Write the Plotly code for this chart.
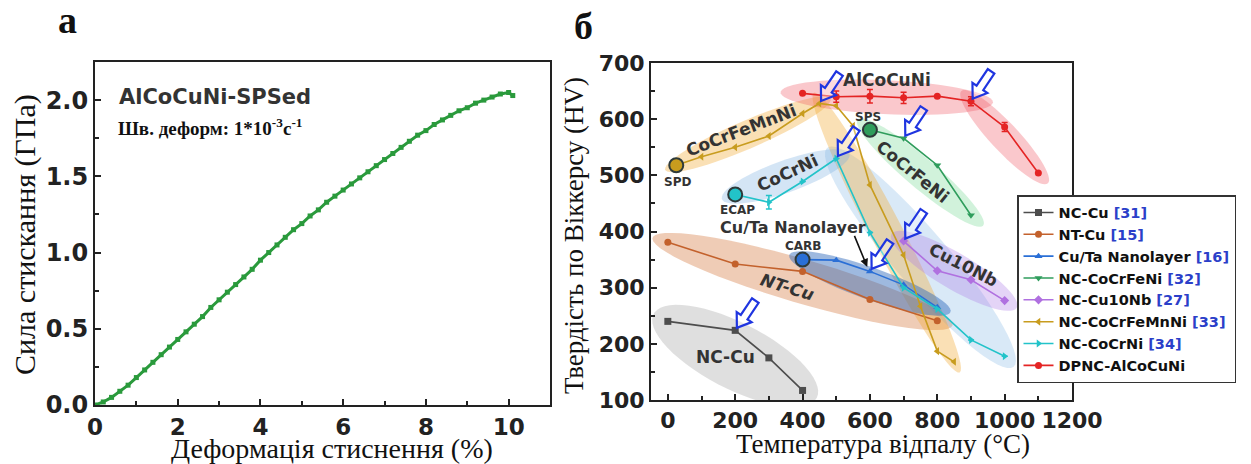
import numpy as np
import plotly.graph_objects as go

W, H = 1251, 464

# ---------- panel (а): compression stress-strain curve ----------
strain = [0.0, 0.2, 0.4, 0.6, 0.8, 1.0, 1.2, 1.4, 1.6, 1.8,
          2.0, 2.2, 2.4, 2.6, 2.8, 3.0, 3.2, 3.4, 3.6, 3.8,
          4.0, 4.2, 4.4, 4.6, 4.8, 5.0, 5.2, 5.4, 5.6, 5.8,
          6.0, 6.2, 6.4, 6.6, 6.8, 7.0, 7.2, 7.4, 7.6, 7.8,
          8.0, 8.2, 8.4, 8.6, 8.8, 9.0, 9.2, 9.4, 9.6, 9.8,
          10.0, 10.1]
stress = [0.00, 0.02, 0.05, 0.09, 0.13, 0.18, 0.23, 0.28, 0.33, 0.38,
          0.43, 0.48, 0.53, 0.58, 0.64, 0.69, 0.74, 0.79, 0.84, 0.89,
          0.95, 1.00, 1.05, 1.10, 1.15, 1.19, 1.24, 1.28, 1.33, 1.37,
          1.41, 1.45, 1.49, 1.53, 1.57, 1.61, 1.65, 1.69, 1.73, 1.77,
          1.80, 1.84, 1.87, 1.90, 1.93, 1.95, 1.98, 2.00, 2.02, 2.04,
          2.05, 2.03]

# ---------- panel (б): Vickers hardness vs annealing temperature ----------
nc_cu_t = [0, 200, 300, 400]
nc_cu_hv = [240, 224, 175, 117]
nt_cu_t = [0, 200, 400, 600, 800]
nt_cu_hv = [381, 342, 329, 279, 241]
cuta_t = [400, 500, 600, 700, 800]
cuta_hv = [350, 349, 329, 305, 265]
cocrfeni_t = [600, 700, 800, 900]
cocrfeni_hv = [581, 566, 518, 429]
cu10nb_t = [700, 800, 900, 1000]
cu10nb_hv = [383, 330, 314, 277]
cocrfemnni_t = [25, 100, 200, 300, 400, 450, 500, 550, 600, 700, 750, 800, 850]
cocrfemnni_hv = [518, 533, 550, 570, 610, 628, 624, 588, 483, 358, 267, 187, 168]
cocrni_t = [200, 300, 400, 500, 600, 700, 800, 900, 1000]
cocrni_hv = [466, 452, 489, 530, 398, 300, 262, 207, 178]
cocrni_err = [0, 12, 0, 0, 0, 0, 0, 0, 0]
alcocuni_t = [400, 500, 600, 700, 800, 900, 1000, 1100]
alcocuni_hv = [646, 640, 641, 638, 641, 632, 586, 504]
alcocuni_err = [0, 10, 12, 10, 0, 8, 8, 0]

legend_names = ["NC-Cu", "NT-Cu", "Cu/Ta Nanolayer", "NC-CoCrFeNi",
                "NC-Cu10Nb", "NC-CoCrFeMnNi", "NC-CoCrNi", "DPNC-AlCoCuNi"]
legend_refs = ["[31]", "[15]", "[16]", "[32]", "[27]", "[33]", "[34]", ""]

series = {
    "NC-Cu": (nc_cu_t, nc_cu_hv, None),
    "NT-Cu": (nt_cu_t, nt_cu_hv, None),
    "Cu/Ta Nanolayer": (cuta_t, cuta_hv, None),
    "NC-CoCrFeNi": (cocrfeni_t, cocrfeni_hv, None),
    "NC-Cu10Nb": (cu10nb_t, cu10nb_hv, None),
    "NC-CoCrFeMnNi": (cocrfemnni_t, cocrfemnni_hv, None),
    "NC-CoCrNi": (cocrni_t, cocrni_hv, cocrni_err),
    "DPNC-AlCoCuNi": (alcocuni_t, alcocuni_hv, alcocuni_err),
}

style = {
    "NC-Cu": ("#4d4d4d", "square"),
    "NT-Cu": ("#c3612c", "circle"),
    "Cu/Ta Nanolayer": ("#2a6fd6", "triangle-up"),
    "NC-CoCrFeNi": ("#2f9d5c", "triangle-down"),
    "NC-Cu10Nb": ("#b070e0", "diamond"),
    "NC-CoCrFeMnNi": ("#c89c1e", "triangle-left"),
    "NC-CoCrNi": ("#22c3c9", "triangle-right"),
    "DPNC-AlCoCuNi": ("#e42424", "circle"),
}

# translucent highlight bands: (series, first index, last index, end padding px, half width px, fill)
bands = [
    ("NC-Cu", 0, 3, 16, 33, "rgba(140,140,140,0.28)"),
    ("NT-Cu", 0, 4, 16, 22, "rgba(214,120,62,0.38)"),
    ("NC-CoCrNi", 3, 8, 14, 27, "rgba(120,175,225,0.28)"),
    ("NC-CoCrFeMnNi", 5, 12, 12, 16, "rgba(240,170,50,0.36)"),
    ("NC-CoCrFeMnNi", 0, 5, 12, 14, "rgba(240,170,50,0.36)"),
    ("NC-CoCrNi", 0, 3, 14, 16, "rgba(120,175,225,0.32)"),
    ("Cu/Ta Nanolayer", 0, 4, 14, 16, "rgba(40,100,185,0.45)"),
    ("NC-CoCrFeNi", 0, 3, 16, 15, "rgba(70,205,110,0.25)"),
    ("NC-Cu10Nb", 0, 3, 14, 18, "rgba(170,120,230,0.32)"),
    ("DPNC-AlCoCuNi", 0, 5, 22, 17, "rgba(238,85,95,0.32)"),
    ("DPNC-AlCoCuNi", 5, 7, 14, 14, "rgba(238,85,95,0.32)"),
]

# hollow block arrows pointing at highlighted points: (series, index)
arrow_targets = [("NC-Cu", 1), ("NC-CoCrFeMnNi", 5), ("DPNC-AlCoCuNi", 5),
                 ("NC-CoCrFeNi", 1), ("NC-CoCrNi", 3), ("NC-Cu10Nb", 0),
                 ("Cu/Ta Nanolayer", 2)]

# processing route markers on first points: (series, label)
start_marks = [("NC-CoCrFeMnNi", "SPD"), ("NC-CoCrNi", "ECAP"),
               ("NC-CoCrFeNi", "SPS"), ("Cu/Ta Nanolayer", "CARB")]

# ---------- geometry ----------
L1 = (95, 550, 62, 405)      # left, right, top, bottom (px)
L2 = (651, 1072, 63, 400)
X1_RANGE, Y1_RANGE = [0, 11], [0, 2.25]
X2_RANGE, Y2_RANGE = [-50, 1200], [100, 700]


def dom(box):
    l, r, t, b = box
    return [l / W, r / W], [1 - b / H, 1 - t / H]


x1d, y1d = dom(L1)
x2d, y2d = dom(L2)


def to_px(t, hv):
    l, r, tp, b = L2
    x = l + (np.asarray(t, float) - X2_RANGE[0]) / (X2_RANGE[1] - X2_RANGE[0]) * (r - l)
    y = b - (np.asarray(hv, float) - Y2_RANGE[0]) / (Y2_RANGE[1] - Y2_RANGE[0]) * (b - tp)
    return x, y


def to_data(x, y):
    l, r, tp, b = L2
    t = X2_RANGE[0] + (x - l) / (r - l) * (X2_RANGE[1] - X2_RANGE[0])
    hv = Y2_RANGE[0] + (b - y) / (b - tp) * (Y2_RANGE[1] - Y2_RANGE[0])
    return t, hv


FONT_B = "DejaVu Sans"
SERIF = "Liberation Serif"

fig = go.Figure()

# left panel curve
fig.add_trace(go.Scatter(
    x=strain, y=stress, mode="lines+markers", xaxis="x", yaxis="y",
    line=dict(color="#2a9a3c", width=3),
    marker=dict(symbol="square", size=5, color="#2a9a3c"),
    showlegend=False, hoverinfo="skip"))

# hardness series
for name, ref in zip(legend_names, legend_refs):
    t, hv, err = series[name]
    color, sym = style[name]
    label = f"{name} <span style='color:#2b3fc9'>{ref}</span>" if ref else name
    kw = {}
    if err is not None:
        kw["error_y"] = dict(type="data", array=err, visible=True,
                             color=color, thickness=1.5, width=3)
    fig.add_trace(go.Scatter(
        x=t, y=hv, mode="lines+markers", xaxis="x2", yaxis="y2", name=label,
        line=dict(color=color, width=1.6),
        marker=dict(symbol=sym, size=7, color=color), **kw))

# ring markers on first points of processed states
for name, _ in start_marks:
    t, hv, _e = series[name]
    color, _s = style[name]
    fig.add_trace(go.Scatter(
        x=[t[0]], y=[hv[0]], mode="markers", xaxis="x2", yaxis="y2",
        marker=dict(symbol="circle", size=14, color=color,
                    line=dict(color="#2e3a3a", width=2)),
        showlegend=False, hoverinfo="skip"))

shapes = []
# ellipse bands built around each data segment
theta = np.linspace(0, 2 * np.pi, 60)
for name, i0, i1, pad, hw, fill in bands:
    t, hv, _e = series[name]
    px, py = to_px(t, hv)
    p0 = np.array([px[i0], py[i0]])
    p1 = np.array([px[i1], py[i1]])
    c = (p0 + p1) / 2
    d = p1 - p0
    length = np.hypot(*d)
    u = d / length
    n = np.array([-u[1], u[0]])
    a = length / 2 + pad
    ex = c[0] + a * np.cos(theta) * u[0] + hw * np.sin(theta) * n[0]
    ey = c[1] + a * np.cos(theta) * u[1] + hw * np.sin(theta) * n[1]
    tt, hh = to_data(ex, ey)
    path = "M " + " L ".join(f"{a_:.2f},{b_:.2f}" for a_, b_ in zip(tt, hh)) + " Z"
    shapes.append(dict(type="path", path=path, xref="x2", yref="y2",
                       fillcolor=fill, line=dict(width=0), layer="below"))

# hollow blue arrows (pixel-sized, anchored at data points)
ang = np.deg2rad(56)
du = np.array([np.cos(ang), np.sin(ang)])
dn = np.array([-np.sin(ang), np.cos(ang)])
outline = [(0, 0), (13, 9), (13, 4), (33, 4), (33, -4), (13, -4), (13, -9)]
gap = 3
for name, idx in arrow_targets:
    t, hv, _e = series[name]
    pts = [(gap + s) * du + w * dn for s, w in outline]
    path = "M " + " L ".join(f"{p[0]:.1f},{p[1]:.1f}" for p in pts) + " Z"
    shapes.append(dict(type="path", path=path, xref="x2", yref="y2",
                       xsizemode="pixel", ysizemode="pixel",
                       xanchor=t[idx], yanchor=hv[idx],
                       fillcolor="rgba(255,255,255,0.35)",
                       line=dict(color="#1f35e0", width=2.2), layer="above"))

annotations = []


def label(text, x, y, size, angle=0, color="#333333"):
    annotations.append(dict(
        text=f"<b>{text}</b>", x=x, y=y, xref="x2", yref="y2",
        showarrow=False, textangle=angle, xanchor="center", yanchor="middle",
        font=dict(family=FONT_B, size=size, color=color)))


label("AlCoCuNi", 652, 669, 17)
label("CoCrFeMnNi", 220, 580, 17, -21)
label("CoCrNi", 354, 504, 17, -25)
label("CoCrFeNi", 729, 506, 17, 39)
label("Cu/Ta Nanolayer", 372, 408, 16)
label("<i>NT-Cu</i>", 354, 302, 17, 17)
label("NC-Cu", 170, 176, 17)
label("Cu10Nb", 878, 340, 17, 27)
route_offsets = {"SPD": (5, -30), "ECAP": (8, -28), "SPS": (-5, 23), "CARB": (2, 24)}
for name, txt in start_marks:
    t, hv, _e = series[name]
    dx, dy = route_offsets[txt]
    label(txt, t[0] + dx, hv[0] + dy, 12)

# black pointer from the Cu/Ta label to its curve
annotations.append(dict(
    x=cuta_t[2] - 8, y=cuta_hv[2] + 8, xref="x2", yref="y2", ax=-14, ay=-34,
    showarrow=True, arrowhead=2, arrowsize=1, arrowwidth=1.6, arrowcolor="#111",
    text=" ", font=dict(size=2)))


def paper_text(text, x, y, size, family, angle=0, xanchor="center", color="#111"):
    annotations.append(dict(text=text, x=x / W, y=1 - y / H, xref="paper", yref="paper",
                            showarrow=False, textangle=angle, xanchor=xanchor,
                            yanchor="middle", font=dict(family=family, size=size, color=color)))


# left panel inscription
paper_text("<b>AlCoCuNi-SPSed</b>", 117, 97, 21, FONT_B, xanchor="left", color="#333")
paper_text("<b>Шв. деформ: 1*10<sup>-3</sup>с<sup>-1</sup></b>", 116, 127, 19, SERIF,
           xanchor="left")

# axis titles and panel letters
paper_text("Деформація стиснення (%)", 332, 448, 28, SERIF)
paper_text("Сила стискання (ГПа)", 25, 235, 30, SERIF, angle=-90)
paper_text("Температура відпалу (°C)", 883, 444, 27, SERIF)
paper_text("Твердість по Віккерсу (HV)", 574, 236, 27, SERIF, angle=-90)
paper_text("<b>а</b>", 67, 20, 38, SERIF)
paper_text("<b>б</b>", 583, 26, 38, SERIF)

axis_common = dict(showline=True, linecolor="#222", linewidth=2, mirror=True,
                   ticks="inside", ticklen=6, tickwidth=1.5, tickcolor="#222",
                   showgrid=False, zeroline=False, automargin=False, tickangle=0)

fig.update_layout(
    width=W, height=H, margin=dict(l=0, r=0, t=0, b=0, autoexpand=False),
    paper_bgcolor="white", plot_bgcolor="white",
    xaxis=dict(domain=x1d, range=X1_RANGE, dtick=2, anchor="y",
               tickfont=dict(family=FONT_B, size=23, color="#222", weight="bold"),
               minor=dict(dtick=1, ticks="inside", ticklen=4, tickcolor="#222"),
               **axis_common),
    yaxis=dict(domain=y1d, range=Y1_RANGE, dtick=0.5, tickformat=".1f", anchor="x",
               tickfont=dict(family=FONT_B, size=24, color="#222", weight="bold"),
               minor=dict(dtick=0.25, ticks="inside", ticklen=4, tickcolor="#222"),
               **axis_common),
    xaxis2=dict(domain=x2d, range=X2_RANGE, tick0=0, dtick=200, anchor="y2",
                tickfont=dict(family=FONT_B, size=22, color="#222", weight="bold"),
                minor=dict(dtick=100, ticks="inside", ticklen=4, tickcolor="#222"),
                **axis_common),
    yaxis2=dict(domain=y2d, range=Y2_RANGE, dtick=100, anchor="x2",
                tickfont=dict(family=FONT_B, size=22, color="#222", weight="bold"),
                minor=dict(dtick=50, ticks="inside", ticklen=4, tickcolor="#222"),
                **axis_common),
    legend=dict(x=1017 / W, y=1 - 195 / H, xanchor="left", yanchor="top",
                bgcolor="white", bordercolor="#333", borderwidth=1.5,
                font=dict(family=FONT_B, size=14.5, color="#111", weight="bold"),
                itemwidth=30, tracegroupgap=0),
    shapes=shapes, annotations=annotations,
)

fig.write_html("out.html")
